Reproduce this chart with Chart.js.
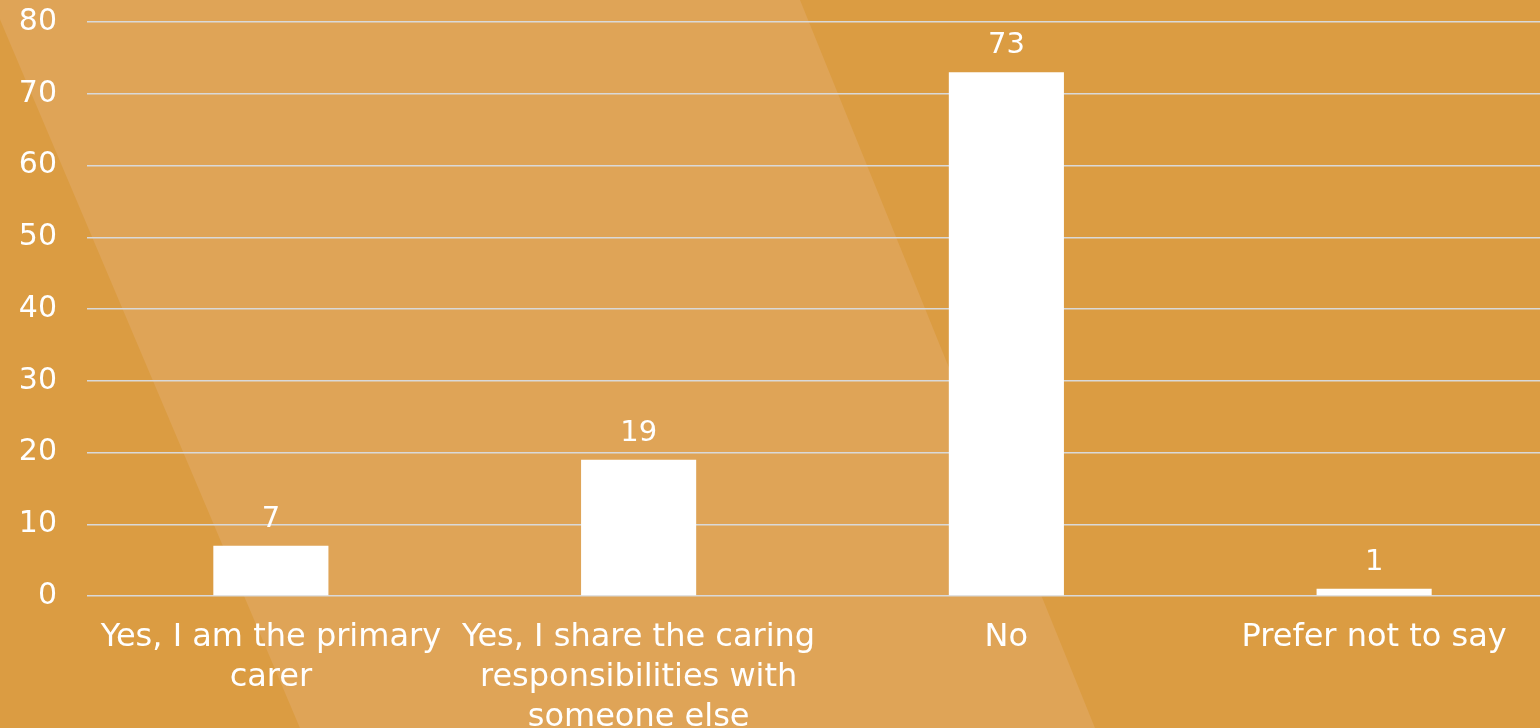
<!DOCTYPE html>
<html>
<head>
<meta charset="utf-8">
<script src="https://cdn.jsdelivr.net/npm/chart.js@4.4.1/dist/chart.umd.min.js"></script>
<style>
  html, body { margin: 0; padding: 0; overflow: hidden; background: #DB9C42; }
  #wrap { width: 1560px; height: 750px; position: relative; }
</style>
</head>
<body>
<div id="wrap"><canvas id="carerChart"></canvas></div>
<script>
// caring responsibilities survey
const categories = [
  ["Yes, I am the primary", "carer"],
  ["Yes, I share the caring", "responsibilities with", "someone else"],
  "No",
  "Prefer not to say"
];
const responses = [7, 19, 73, 1];
const yTicks = [0, 10, 20, 30, 40, 50, 60, 70, 80];

const FONT = "'DejaVu Sans', sans-serif";

// orange backdrop with the pale diagonal band
const backdrop = {
  id: "backdrop",
  beforeDraw(chart) {
    const ctx = chart.ctx;
    ctx.save();
    ctx.fillStyle = "#DB9C42";
    ctx.fillRect(0, 0, chart.width, chart.height);
    ctx.fillStyle = "#DFA457";
    ctx.beginPath();
    ctx.moveTo(-10, 0);
    ctx.lineTo(800, 0);
    ctx.lineTo(1095 + 0.405 * 22, 750);
    ctx.lineTo(300 + 0.42 * 22, 750);
    ctx.lineTo(-10, -4);
    ctx.closePath();
    ctx.fill();
    ctx.restore();
  }
};

// value printed above each bar
const valueLabels = {
  id: "valueLabels",
  afterDatasetsDraw(chart) {
    const ctx = chart.ctx;
    const meta = chart.getDatasetMeta(0);
    ctx.save();
    ctx.fillStyle = "#ffffff";
    ctx.font = "29px " + FONT;
    ctx.textAlign = "center";
    ctx.textBaseline = "alphabetic";
    meta.data.forEach(function(bar, i) {
      ctx.fillText(String(responses[i]), bar.x, bar.y - 19);
    });
    ctx.restore();
  }
};

new Chart(document.getElementById("carerChart"), {
  type: "bar",
  data: {
    labels: categories,
    datasets: [{
      data: responses,
      backgroundColor: "#ffffff",
      borderWidth: 0,
      categoryPercentage: 1,
      barPercentage: 0.313
    }]
  },
  options: {
    responsive: true,
    maintainAspectRatio: false,
    animation: false,
    layout: { padding: { top: 22, right: 2, left: 0, bottom: 0 } },
    scales: {
      y: {
        min: 0,
        max: 80,
        afterBuildTicks(scale) { scale.ticks = yTicks.map(v => ({ value: v })); },
        afterFit(scale) {
          scale.width = 87;
          // tick padding shouldn't push the plot down
          scale.paddingTop = 0;
          scale.paddingBottom = 0;
        },
        border: { display: false },
        grid: { color: "#D9D9D9", lineWidth: 1.5, drawTicks: false },
        ticks: { color: "#ffffff", padding: 30, font: { family: FONT, size: 30 } }
      },
      x: {
        afterFit(scale) { scale.height = 154; },
        border: { display: false },
        grid: { display: false, drawTicks: false },
        ticks: {
          color: "#ffffff",
          padding: 22,
          maxRotation: 0,
          autoSkip: false,
          font: { family: FONT, size: 32, lineHeight: 1.25 }
        }
      }
    },
    plugins: { legend: { display: false }, tooltip: { enabled: false } }
  },
  plugins: [backdrop, valueLabels]
});
</script>
</body>
</html>
